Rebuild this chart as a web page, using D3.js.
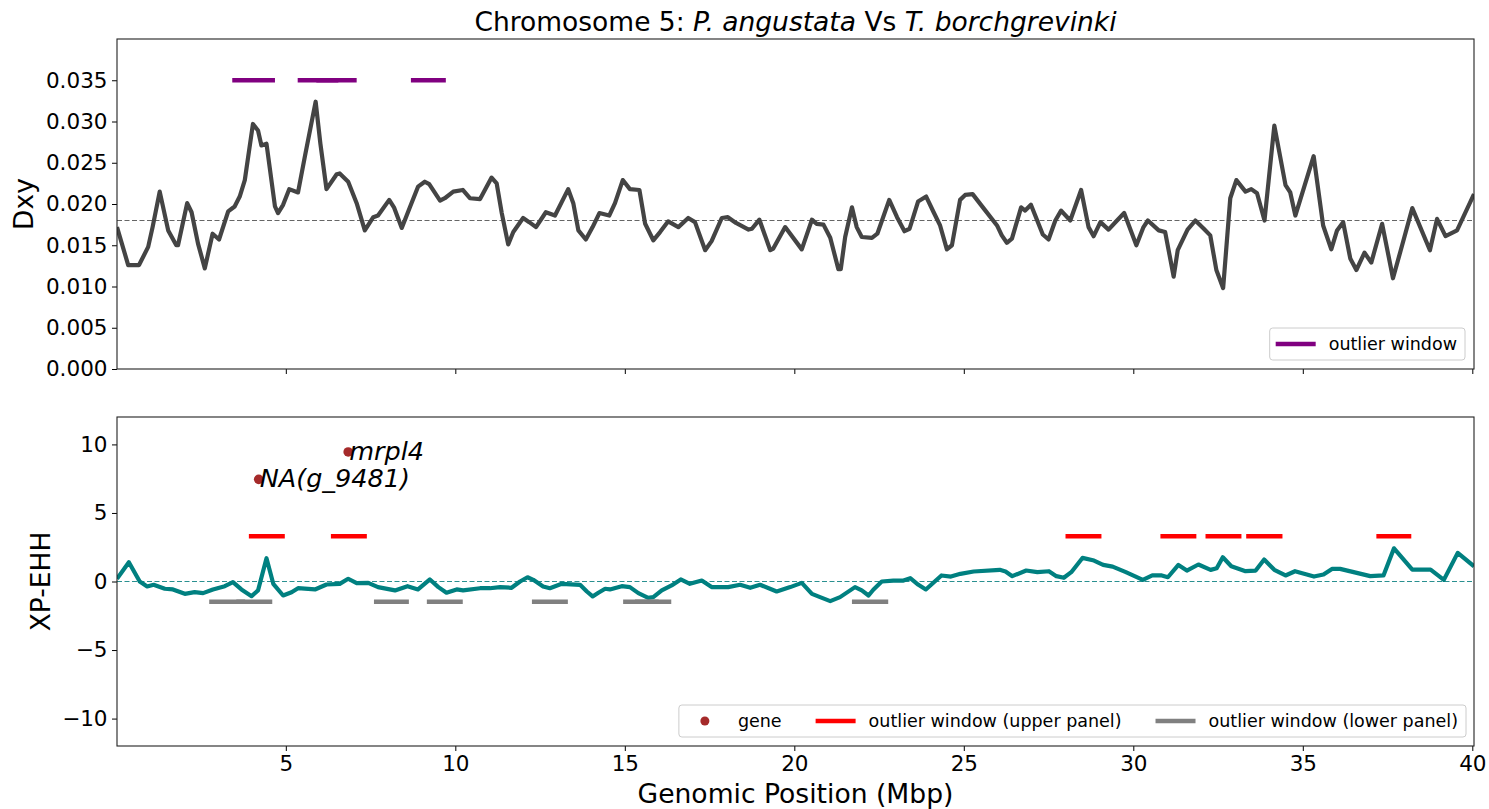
<!DOCTYPE html>
<html>
<head>
<meta charset="utf-8">
<script src="https://cdn.jsdelivr.net/npm/d3@7"></script>
<style>
  body { margin: 0; background: #fff; }
  text { font-family: "DejaVu Sans", sans-serif; fill: #000; }
</style>
</head>
<body>
<div id="chart"></div>
<script>
// Dxy along chromosome 5 (position in Mbp, value)
var dxyPos = [0.02, 0.35, 0.67, 0.94, 1.07, 1.28, 1.53, 1.77, 1.82, 2.09, 2.22, 2.41, 2.61, 2.84, 3.03, 3.30, 3.49, 3.64, 3.79, 4.03,
  4.18, 4.28, 4.43, 4.68, 4.77, 4.92, 5.10, 5.36, 5.56, 5.88, 6.02, 6.20, 6.50, 6.59, 6.84, 7.09, 7.33, 7.58, 7.72, 8.05,
  8.19, 8.42, 8.66, 8.90, 9.10, 9.23, 9.55, 9.69, 9.94, 10.22, 10.43, 10.73, 11.07, 11.22, 11.37, 11.56, 11.71, 12.00, 12.18, 12.38,
  12.67, 12.94, 13.33, 13.48, 13.63, 13.85, 14.05, 14.25, 14.54, 14.71, 14.94, 15.15, 15.43, 15.60, 15.84, 16.04, 16.28, 16.58, 16.87, 17.07,
  17.37, 17.56, 17.86, 18.04, 18.28, 18.65, 18.75, 18.97, 19.29, 19.38, 19.73, 20.22, 20.52, 20.66, 20.86, 21.06, 21.30, 21.37, 21.50, 21.70,
  21.84, 21.99, 22.29, 22.45, 22.80, 23.03, 23.25, 23.40, 23.65, 23.89, 24.11, 24.30, 24.50, 24.65, 24.89, 25.04, 25.26, 25.58, 25.98, 26.12,
  26.27, 26.42, 26.69, 26.81, 26.98, 27.33, 27.50, 27.70, 27.87, 28.14, 28.46, 28.68, 28.83, 29.03, 29.27, 29.52, 29.73, 30.09, 30.30, 30.43,
  30.75, 30.94, 31.19, 31.31, 31.60, 31.83, 32.08, 32.27, 32.45, 32.65, 32.86, 33.04, 33.31, 33.48, 33.65, 33.87, 34.16, 34.49, 34.63, 34.78,
  35.05, 35.32, 35.60, 35.84, 36.01, 36.19, 36.40, 36.58, 36.82, 37.02, 37.34, 37.66, 37.93, 38.23, 38.75, 38.96, 39.21, 39.55, 40.05];
var dxyVal = [0.0172, 0.0126, 0.0126, 0.0148, 0.0172, 0.0215, 0.0168, 0.0150, 0.0150, 0.0201, 0.0190, 0.0152, 0.0122, 0.0164, 0.0157, 0.0191, 0.0197, 0.0209, 0.0229, 0.0297,
  0.0289, 0.0271, 0.0273, 0.0197, 0.0189, 0.0199, 0.0218, 0.0214, 0.0257, 0.0324, 0.0273, 0.0218, 0.0236, 0.0237, 0.0227, 0.0201, 0.0168, 0.0184, 0.0186, 0.0205,
  0.0196, 0.0171, 0.0196, 0.0221, 0.0227, 0.0224, 0.0204, 0.0207, 0.0215, 0.0217, 0.0207, 0.0206, 0.0232, 0.0225, 0.0189, 0.0151, 0.0166, 0.0183, 0.0178, 0.0172,
  0.0190, 0.0186, 0.0218, 0.0201, 0.0168, 0.0157, 0.0172, 0.0189, 0.0186, 0.0201, 0.0229, 0.0218, 0.0217, 0.0176, 0.0156, 0.0166, 0.0179, 0.0172, 0.0183, 0.0178,
  0.0144, 0.0155, 0.0183, 0.0184, 0.0177, 0.0169, 0.0170, 0.0181, 0.0144, 0.0146, 0.0172, 0.0145, 0.0181, 0.0176, 0.0175, 0.0159, 0.0121, 0.0121, 0.0160, 0.0196,
  0.0172, 0.0160, 0.0159, 0.0164, 0.0205, 0.0184, 0.0167, 0.0170, 0.0203, 0.0209, 0.0190, 0.0174, 0.0145, 0.0150, 0.0205, 0.0211, 0.0212, 0.0195, 0.0174, 0.0162,
  0.0153, 0.0158, 0.0196, 0.0192, 0.0199, 0.0163, 0.0157, 0.0180, 0.0192, 0.0180, 0.0217, 0.0172, 0.0161, 0.0178, 0.0169, 0.0180, 0.0189, 0.0150, 0.0172, 0.0180,
  0.0168, 0.0166, 0.0112, 0.0144, 0.0169, 0.0180, 0.0170, 0.0162, 0.0120, 0.0098, 0.0207, 0.0229, 0.0215, 0.0218, 0.0213, 0.0180, 0.0295, 0.0223, 0.0214, 0.0186,
  0.0222, 0.0258, 0.0174, 0.0145, 0.0168, 0.0178, 0.0134, 0.0120, 0.0141, 0.0129, 0.0176, 0.0110, 0.0150, 0.0195, 0.0144, 0.0182, 0.0161, 0.0168, 0.0212];
var dxyMean = 0.018;

// XP-EHH along chromosome 5
var xpPos = [0.02, 0.37, 0.69, 0.91, 1.10, 1.43, 1.67, 2.02, 2.31, 2.56, 2.85, 3.20, 3.44, 3.69, 3.99, 4.18, 4.43, 4.63, 4.92, 5.17,
  5.36, 5.86, 6.20, 6.59, 6.84, 7.09, 7.43, 7.72, 8.22, 8.59, 8.90, 9.25, 9.50, 9.74, 10.04, 10.23, 10.73, 11.02, 11.32, 11.66,
  11.91, 12.13, 12.30, 12.59, 12.79, 13.14, 13.68, 13.88, 14.05, 14.22, 14.42, 14.56, 14.91, 15.15, 15.40, 15.69, 15.84, 16.09, 16.38, 16.65,
  16.92, 17.27, 17.56, 18.05, 18.40, 18.70, 18.99, 19.48, 19.88, 20.22, 20.52, 20.76, 21.06, 21.35, 21.79, 21.99, 22.19, 22.33, 22.58, 22.92,
  23.22, 23.42, 23.66, 23.88, 24.34, 24.62, 24.90, 25.29, 26.06, 26.23, 26.43, 26.84, 27.17, 27.51, 27.73, 27.95, 28.17, 28.50, 28.84, 29.11,
  29.39, 29.78, 30.28, 30.56, 30.84, 31.02, 31.33, 31.58, 31.92, 32.28, 32.46, 32.64, 32.89, 33.31, 33.61, 33.86, 34.16, 34.49, 34.77, 35.33,
  35.61, 35.86, 36.10, 36.99, 37.38, 37.69, 38.23, 38.77, 39.16, 39.57, 40.05];
var xpVal = [0.2, 1.4, 0.0, -0.36, -0.24, -0.53, -0.58, -0.9, -0.78, -0.85, -0.58, -0.34, -0.05, -0.58, -1.07, -0.65, 1.7, -0.17, -1.02, -0.78,
  -0.49, -0.58, -0.22, -0.17, 0.2, -0.12, -0.1, -0.41, -0.65, -0.34, -0.58, 0.15, -0.41, -0.82, -0.58, -0.65, -0.49, -0.49, -0.41, -0.46,
  0.0, 0.31, 0.12, -0.36, -0.49, -0.17, -0.24, -0.73, -1.09, -0.82, -0.53, -0.58, -0.34, -0.41, -0.85, -1.19, -1.14, -0.65, -0.29, 0.15,
  -0.17, 0.07, -0.41, -0.41, -0.24, -0.46, -0.24, -0.73, -0.41, -0.1, -0.9, -1.14, -1.43, -1.14, -0.41, -0.65, -1.02, -0.6, 0.0, 0.07,
  0.07, 0.24, -0.24, -0.58, 0.44, 0.36, 0.56, 0.73, 0.85, 0.73, 0.39, 0.8, 0.68, 0.75, 0.39, 0.27, 0.68, 1.72, 1.53, 1.21,
  1.09, 0.68, 0.12, 0.44, 0.44, 0.31, 1.21, 0.8, 1.24, 0.85, 0.97, 1.77, 1.11, 0.75, 0.8, 1.6, 0.85, 0.44, 0.75, 0.36,
  0.51, 0.92, 0.92, 0.39, 0.44, 2.42, 0.87, 0.87, 0.12, 2.09, 1.11];

// outlier windows [start, end] in Mbp
var dxyWindows = [[3.42, 4.68], [5.35, 6.55], [5.90, 7.09], [8.69, 9.72]];
var upperWindows = [[3.91, 4.97], [6.33, 7.39], [28.00, 29.06], [30.80, 31.86], [32.13, 33.19], [33.33, 34.40], [37.17, 38.20]];
var lowerWindows = [[2.74, 3.80], [3.54, 4.60], [7.60, 8.63], [9.16, 10.22], [12.26, 13.32], [14.95, 16.00], [15.30, 16.37], [21.70, 22.77]];
var dxyWindowLevel = 0.035;
var upperLevel = 3.3;
var lowerLevel = -1.48;

// genes annotated in the lower panel
var geneNames = ["NA(g_9481)", "mrpl4"];
var genePos = [4.20, 6.84];
var geneVal = [7.45, 9.45];

// tick values
var xTicks = [5, 10, 15, 20, 25, 30, 35, 40];
var dxyTicks = [0, 0.005, 0.01, 0.015, 0.02, 0.025, 0.03, 0.035];
var xpTicks = [-10, -5, 0, 5, 10];

// canvas
var width = 1489;
var height = 809;
var plotLeft = 117;
var plotRight = 1474;
var topPanel = { y0: 39, y1: 369 };
var botPanel = { y0: 417, y1: 746 };

var svg = d3.select("#chart")
    .append("svg")
    .attr("width", width)
    .attr("height", height);

// scales
var xScale = d3.scaleLinear().domain([0.02, 40.05]).range([plotLeft, plotRight]);
var yTop = d3.scaleLinear().domain([0, 0.04]).range([topPanel.y1, topPanel.y0]);
var yBot = d3.scaleLinear().domain([-12, 12]).range([botPanel.y1, botPanel.y0]);

// clip paths so lines stay inside each panel
var defs = svg.append("defs");
defs.append("clipPath").attr("id", "clipTop").append("rect")
    .attr("x", plotLeft).attr("y", topPanel.y0)
    .attr("width", plotRight - plotLeft).attr("height", topPanel.y1 - topPanel.y0);
defs.append("clipPath").attr("id", "clipBot").append("rect")
    .attr("x", plotLeft).attr("y", botPanel.y0)
    .attr("width", plotRight - plotLeft).attr("height", botPanel.y1 - botPanel.y0);

// ---------- top panel: Dxy ----------
var gTop = svg.append("g").attr("clip-path", "url(#clipTop)");

gTop.append("line")
    .attr("x1", plotLeft).attr("x2", plotRight)
    .attr("y1", yTop(dxyMean)).attr("y2", yTop(dxyMean))
    .attr("stroke", "#666")
    .attr("stroke-width", 1.2)
    .attr("stroke-dasharray", "5,2.5");

var dxyLine = d3.line()
    .x(function(d, i) { return xScale(dxyPos[i]); })
    .y(function(d) { return yTop(d); });

gTop.append("path")
    .attr("d", dxyLine(dxyVal))
    .attr("fill", "none")
    .attr("stroke", "#444444")
    .attr("stroke-width", 4.2)
    .attr("stroke-linejoin", "round");

gTop.selectAll(".dxyWin")
    .data(dxyWindows)
    .enter()
    .append("line")
    .attr("class", "dxyWin")
    .attr("x1", function(d) { return xScale(d[0]); })
    .attr("x2", function(d) { return xScale(d[1]); })
    .attr("y1", yTop(dxyWindowLevel))
    .attr("y2", yTop(dxyWindowLevel))
    .attr("stroke", "purple")
    .attr("stroke-width", 4.5);

// ---------- bottom panel: XP-EHH ----------
var gBot = svg.append("g").attr("clip-path", "url(#clipBot)");

gBot.append("line")
    .attr("x1", plotLeft).attr("x2", plotRight)
    .attr("y1", yBot(0)).attr("y2", yBot(0))
    .attr("stroke", "#2a9090")
    .attr("stroke-width", 1.2)
    .attr("stroke-dasharray", "5,2.5");

var xpLine = d3.line()
    .x(function(d, i) { return xScale(xpPos[i]); })
    .y(function(d) { return yBot(d); });

gBot.append("path")
    .attr("d", xpLine(xpVal))
    .attr("fill", "none")
    .attr("stroke", "teal")
    .attr("stroke-width", 4.2)
    .attr("stroke-linejoin", "round");

gBot.selectAll(".upWin")
    .data(upperWindows)
    .enter()
    .append("line")
    .attr("class", "upWin")
    .attr("x1", function(d) { return xScale(d[0]); })
    .attr("x2", function(d) { return xScale(d[1]); })
    .attr("y1", yBot(upperLevel))
    .attr("y2", yBot(upperLevel))
    .attr("stroke", "red")
    .attr("stroke-width", 4.5);

gBot.selectAll(".lowWin")
    .data(lowerWindows)
    .enter()
    .append("line")
    .attr("class", "lowWin")
    .attr("x1", function(d) { return xScale(d[0]); })
    .attr("x2", function(d) { return xScale(d[1]); })
    .attr("y1", yBot(lowerLevel))
    .attr("y2", yBot(lowerLevel))
    .attr("stroke", "grey")
    .attr("stroke-width", 4.5);

// gene points and italic names
geneNames.forEach(function(name, i) {
    gBot.append("circle")
        .attr("cx", xScale(genePos[i]))
        .attr("cy", yBot(geneVal[i]))
        .attr("r", 4.8)
        .attr("fill", "brown");
    gBot.append("text")
        .attr("x", xScale(genePos[i]) + 1)
        .attr("y", yBot(geneVal[i]) + 8)
        .attr("font-size", 25.5)
        .attr("font-style", "italic")
        .text(name);
});

// ---------- axes ----------
function styleAxis(g) {
    g.select(".domain").remove();
    g.selectAll(".tick line").attr("stroke", "#000").attr("stroke-width", 1);
    g.selectAll(".tick text")
        .attr("font-size", 21.5)
        .attr("font-family", "DejaVu Sans")
        .attr("fill", "#000");
}

svg.append("g")
    .attr("transform", "translate(" + plotLeft + ",0)")
    .call(d3.axisLeft(yTop).tickValues(dxyTicks).tickFormat(d3.format(".3f")).tickSize(5).tickPadding(4.5))
    .call(styleAxis);

svg.append("g")
    .attr("transform", "translate(0," + topPanel.y1 + ")")
    .call(d3.axisBottom(xScale).tickValues(xTicks).tickFormat("").tickSize(5))
    .call(styleAxis);

svg.append("g")
    .attr("transform", "translate(" + plotLeft + ",0)")
    .call(d3.axisLeft(yBot).tickValues(xpTicks).tickFormat(d3.format("d")).tickSize(5).tickPadding(4.5))
    .call(styleAxis);

svg.append("g")
    .attr("transform", "translate(0," + botPanel.y1 + ")")
    .call(d3.axisBottom(xScale).tickValues(xTicks).tickFormat(d3.format("d")).tickSize(5).tickPadding(4.5))
    .call(styleAxis);

// panel frames
[topPanel, botPanel].forEach(function(p) {
    svg.append("rect")
        .attr("x", plotLeft)
        .attr("y", p.y0)
        .attr("width", plotRight - plotLeft)
        .attr("height", p.y1 - p.y0)
        .attr("fill", "none")
        .attr("stroke", "#222")
        .attr("stroke-width", 1.1);
});

// ---------- legends ----------
function drawLegend(items, rightX, bottomY) {
    var g = svg.append("g");
    var box = g.append("rect");
    var pad = 6, handleLen = 40, textPad = 13, colGap = 34, boxH = 32;
    var cx = pad;
    var midY = boxH / 2;
    items.forEach(function(it) {
        if (it.type === "dot") {
            g.append("circle")
                .attr("cx", cx + handleLen / 2)
                .attr("cy", midY)
                .attr("r", 4.5)
                .attr("fill", it.color);
        } else {
            g.append("line")
                .attr("x1", cx).attr("x2", cx + handleLen)
                .attr("y1", midY).attr("y2", midY)
                .attr("stroke", it.color)
                .attr("stroke-width", 4.5);
        }
        var t = g.append("text")
            .attr("x", cx + handleLen + textPad)
            .attr("y", midY + 6)
            .attr("font-size", 17.5)
            .text(it.label);
        cx = cx + handleLen + textPad + t.node().getComputedTextLength() + colGap;
    });
    var boxW = cx - colGap + pad + 2;
    box.attr("x", 0).attr("y", 0)
        .attr("width", boxW).attr("height", boxH)
        .attr("rx", 3)
        .attr("fill", "#fff")
        .attr("fill-opacity", 0.8)
        .attr("stroke", "#cccccc")
        .attr("stroke-width", 1);
    g.attr("transform", "translate(" + (rightX - boxW) + "," + (bottomY - boxH) + ")");
}

drawLegend([{ type: "line", color: "purple", label: "outlier window" }], 1465, 360);
drawLegend([
    { type: "dot", color: "brown", label: "gene" },
    { type: "line", color: "red", label: "outlier window (upper panel)" },
    { type: "line", color: "grey", label: "outlier window (lower panel)" }
], 1466, 737);

// ---------- titles and axis labels ----------
var title = svg.append("text")
    .attr("x", (plotLeft + plotRight) / 2)
    .attr("y", 31)
    .attr("text-anchor", "middle")
    .attr("font-size", 26.5);
title.append("tspan").text("Chromosome 5: ");
title.append("tspan").attr("font-style", "italic").text("P. angustata");
title.append("tspan").text(" Vs ");
title.append("tspan").attr("font-style", "italic").text("T. borchgrevinki");

svg.append("text")
    .attr("x", (plotLeft + plotRight) / 2)
    .attr("y", 803)
    .attr("text-anchor", "middle")
    .attr("font-size", 26.6)
    .text("Genomic Position (Mbp)");

svg.append("text")
    .attr("transform", "translate(33," + (topPanel.y0 + topPanel.y1) / 2 + ")rotate(-90)")
    .attr("text-anchor", "middle")
    .attr("font-size", 26.5)
    .text("Dxy");

svg.append("text")
    .attr("transform", "translate(50," + (botPanel.y0 + botPanel.y1) / 2 + ")rotate(-90)")
    .attr("text-anchor", "middle")
    .attr("font-size", 26.5)
    .text("XP-EHH");
</script>
</body>
</html>
